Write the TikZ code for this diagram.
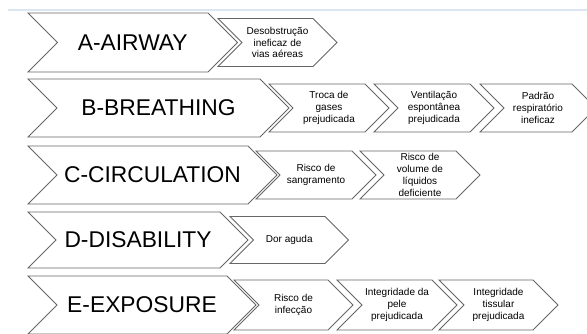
\documentclass[tikz,border=0pt]{standalone}
\usepackage{fontspec}
\setmainfont{Liberation Sans}
\definecolor{chevgray}{HTML}{666666}
\definecolor{topline}{HTML}{DCE6F2}
\tikzset{
  chevline/.style={draw=chevgray, line width=0.75pt, fill=white, line join=miter},
  bigtxt/.style={font=\fontsize{22.8}{26}\selectfont, text=black, inner sep=0pt},
  smalltxt/.style={font=\fontsize{10}{11.8}\selectfont, align=center, text=black, inner sep=0pt},
}
\newcommand{\mychev}[7]{%
  \pgfmathsetmacro{\cxa}{#2}\pgfmathsetmacro{\cxb}{#3}%
  \pgfmathsetmacro{\cyc}{#4}\pgfmathsetmacro{\chh}{#5}%
  \draw[chevline] (\cxa,\cyc-\chh) -- (\cxb,\cyc-\chh) -- (\cxb+\chh,\cyc) -- (\cxb,\cyc+\chh) -- (\cxa,\cyc+\chh) -- (\cxa+\chh,\cyc) -- cycle;
  \node[#7] (#1) at ({(\cxa+\chh+\cxb)/2},\cyc) {#6};
}
\begin{document}
\begin{tikzpicture}[x=1pt,y=-1pt]
\useasboundingbox (0,0) rectangle (587,333);
\draw[topline, line width=2pt] (8,10) -- (587,10);
% Row A
\mychev{a}{28}{208}{42.5}{29.5}{A-AIRWAY}{bigtxt}
\mychev{a1}{218}{313}{42.5}{24}{Desobstrução\\ineficaz de\\vias aéreas}{smalltxt}
% Row B
\mychev{b}{28}{260}{108}{29}{B-BREATHING}{bigtxt}
\mychev{b1}{269}{365}{108}{24}{Troca de\\gases\\prejudicada}{smalltxt}
\mychev{b2}{374}{470}{108}{24}{Ventilação\\espontânea\\prejudicada}{smalltxt}
\mychev{b3}{480}{572}{108}{24}{Padrão\\respiratório\\ineficaz}{smalltxt}
% Row C
\mychev{c}{28}{248}{175}{29}{C-CIRCULATION}{bigtxt}
\mychev{c1}{256}{352}{175}{24}{Risco de\\sangramento}{smalltxt}
\mychev{c2}{360}{456}{175}{24}{Risco de\\volume de\\líquidos\\deficiente}{smalltxt}
% Row D
\mychev{d}{28}{220}{240}{28}{D-DISABILITY}{bigtxt}
\mychev{d1}{230}{325}{240}{23.5}{Dor aguda}{smalltxt}
% Row E
\mychev{e}{28}{227}{305}{29}{E-EXPOSURE}{bigtxt}
\mychev{e1}{234}{328}{305}{25}{Risco de\\infecção}{smalltxt}
\mychev{e2}{337}{432}{305}{25}{Integridade da\\pele\\prejudicada}{smalltxt}
\mychev{e3}{439}{533}{305}{25}{Integridade\\tissular\\prejudicada}{smalltxt}
\end{tikzpicture}
\end{document}
